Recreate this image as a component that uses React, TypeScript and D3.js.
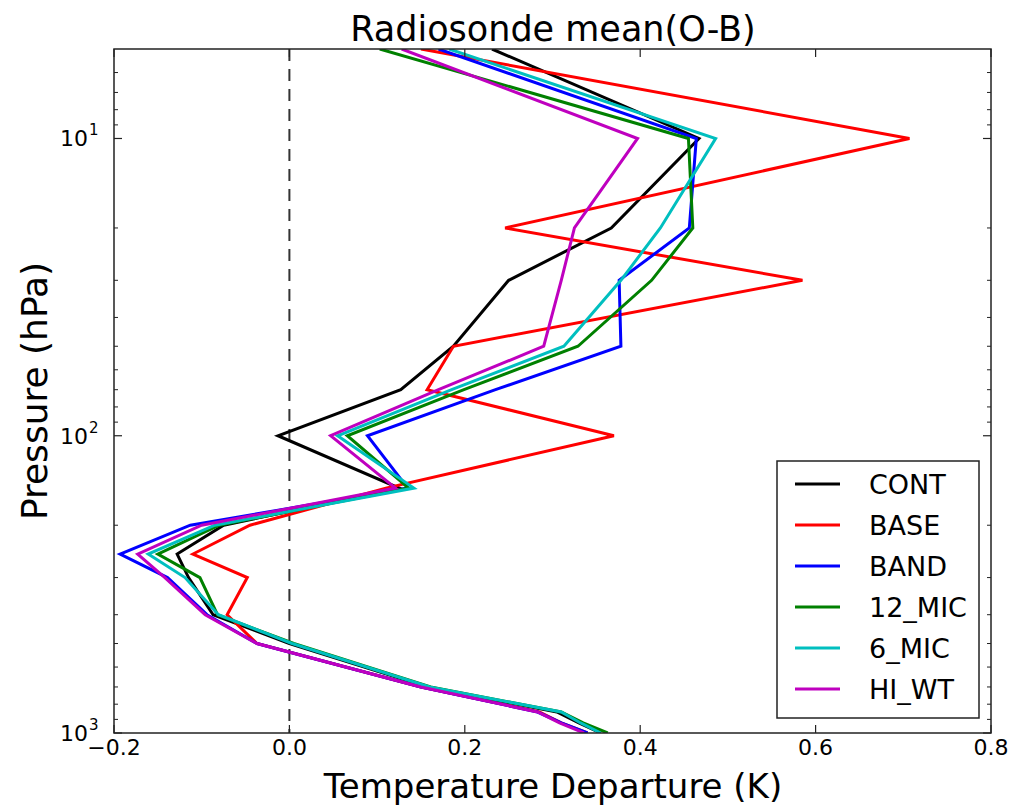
import React from 'react';
import * as d3 from 'd3';

// pressure levels (hPa), top to bottom
const levels = [5, 10, 20, 30, 50, 70, 100, 150, 200, 250, 300, 400, 500, 700, 850, 925, 1000];

// mean O-B temperature departure (K) per experiment, one value per level
const cont = [0.231, 0.467, 0.367, 0.25, 0.187, 0.127, -0.013, 0.125, -0.075, -0.128, -0.115, -0.087, 0.0, 0.158, 0.305, 0.33, 0.355];
const base = [0.15, 0.707, 0.246, 0.585, 0.187, 0.157, 0.37, 0.11, -0.045, -0.11, -0.048, -0.071, -0.037, 0.15, 0.285, 0.31, 0.34];
const band = [0.17, 0.464, 0.456, 0.376, 0.378, 0.235, 0.089, 0.135, -0.113, -0.193, -0.139, -0.094, -0.037, 0.15, 0.283, 0.31, 0.34];
const mic12 = [0.103, 0.455, 0.46, 0.413, 0.329, 0.199, 0.066, 0.136, -0.08, -0.15, -0.102, -0.082, 0.005, 0.161, 0.31, 0.335, 0.363];
const mic6 = [0.182, 0.486, 0.423, 0.378, 0.313, 0.185, 0.055, 0.142, -0.085, -0.161, -0.119, -0.081, 0.003, 0.16, 0.31, 0.332, 0.355];
const hiwt = [0.128, 0.397, 0.325, 0.31, 0.29, 0.17, 0.047, 0.121, -0.1, -0.173, -0.142, -0.096, -0.037, 0.15, 0.283, 0.308, 0.336];

const seriesNames = ['CONT', 'BASE', 'BAND', '12_MIC', '6_MIC', 'HI_WT'];
const seriesValues = [cont, base, band, mic12, mic6, hiwt];
const seriesColors = ['#000000', '#ff0000', '#0000ff', '#008000', '#00bfbf', '#bf00bf'];

const xTicks = [-0.2, 0.0, 0.2, 0.4, 0.6, 0.8];
const yMajor = [10, 100, 1000];
const yExp = ['1', '2', '3'];

const W = 1017;
const H = 809;
const left = 114, right = 991, top = 49, bottom = 733;
const font = 'DejaVu Sans, sans-serif';

const App = () => {
  const x = d3.scaleLinear().domain([-0.2, 0.8]).range([left, right]);
  const y = d3.scaleLog().domain([5, 1000]).range([top, bottom]);

  // minor log ticks inside the domain
  const yMinor: number[] = [];
  [1, 10, 100].forEach(dec => {
    for (let k = 2; k <= 9; k++) {
      const v = dec * k;
      if (v > 5 && v < 1000 && v !== 10 && v !== 100) yMinor.push(v);
    }
  });

  const line = d3.line<number>()
    .x(d => x(d))
    .y((d, i) => y(levels[i]));

  const legendX = 777, legendY = 461, legendW = 202, legendH = 257;
  const rowH = 41;

  return (
    <svg width={W} height={H} style={{ position: 'absolute', left: 0, top: 0, background: '#fff' }} fontFamily={font}>
      <rect x={0} y={0} width={W} height={H} fill="#fff" />
      <defs>
        <clipPath id="plot">
          <rect x={left} y={top} width={right - left} height={bottom - top} />
        </clipPath>
      </defs>

      {/* zero line */}
      <line x1={x(0)} x2={x(0)} y1={top} y2={bottom} stroke="#333" strokeWidth={2} strokeDasharray="12,8" />

      {/* profiles */}
      <g clipPath="url(#plot)">
        {seriesValues.map((vals, i) => (
          <path key={seriesNames[i]} d={line(vals) || ''} fill="none" stroke={seriesColors[i]}
            strokeWidth={3} strokeLinejoin="miter" />
        ))}
      </g>

      {/* frame */}
      <rect x={left} y={top} width={right - left} height={bottom - top} fill="none" stroke="#222" strokeWidth={1.5} />

      {/* x ticks */}
      {xTicks.map(t => (
        <g key={'x' + t}>
          <line x1={x(t)} x2={x(t)} y1={bottom} y2={bottom - 8} stroke="#222" strokeWidth={1.2} />
          <line x1={x(t)} x2={x(t)} y1={top} y2={top + 8} stroke="#222" strokeWidth={1.2} />
          <text x={x(t)} y={755} fontSize={22} textAnchor="middle" fill="#000">
            {t < 0 ? '\u2212' + Math.abs(t).toFixed(1) : t.toFixed(1)}
          </text>
        </g>
      ))}

      {/* y ticks */}
      {yMajor.map((t, i) => (
        <g key={'y' + t}>
          <line x1={left} x2={left + 8} y1={y(t)} y2={y(t)} stroke="#222" strokeWidth={1.2} />
          <line x1={right} x2={right - 8} y1={y(t)} y2={y(t)} stroke="#222" strokeWidth={1.2} />
          <text x={88} y={y(t) + 8} fontSize={22} textAnchor="end" fill="#000">10</text>
          <text x={89} y={y(t) - 3} fontSize={15} textAnchor="start" fill="#000">{yExp[i]}</text>
        </g>
      ))}
      {yMinor.map(t => (
        <g key={'ym' + t}>
          <line x1={left} x2={left + 4} y1={y(t)} y2={y(t)} stroke="#222" strokeWidth={1} />
          <line x1={right} x2={right - 4} y1={y(t)} y2={y(t)} stroke="#222" strokeWidth={1} />
        </g>
      ))}

      {/* titles */}
      <text x={553} y={41} fontSize={35} textAnchor="middle" fill="#000">Radiosonde mean(O-B)</text>
      <text x={553} y={798} fontSize={34} textAnchor="middle" fill="#000">Temperature Departure (K)</text>
      <text transform={`translate(47, 391) rotate(-90)`} fontSize={36} textAnchor="middle" fill="#000">Pressure (hPa)</text>

      {/* legend */}
      <rect x={legendX} y={legendY} width={legendW} height={legendH} fill="#fff" stroke="#222" strokeWidth={1.5} />
      {seriesNames.map((name, i) => {
        const cy = 484 + i * rowH;
        return (
          <g key={'lg' + name}>
            <line x1={795} x2={840} y1={cy} y2={cy} stroke={seriesColors[i]} strokeWidth={3} />
            <text x={869} y={cy + 10} fontSize={27} fill="#000">{name}</text>
          </g>
        );
      })}
    </svg>
  );
};

export default App;
